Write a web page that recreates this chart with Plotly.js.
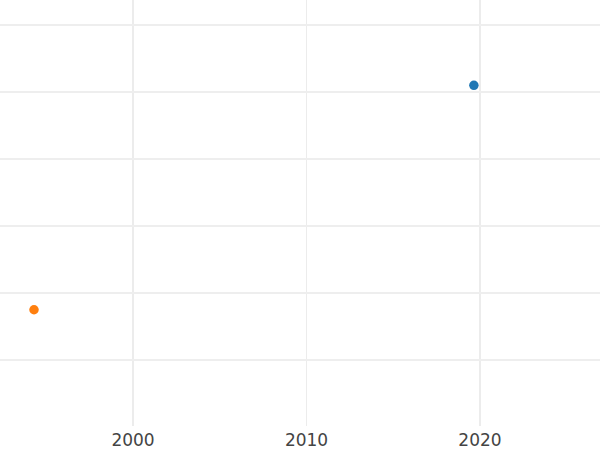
<!DOCTYPE html>
<html>
<head>
<meta charset="utf-8">
<script src="https://cdn.plot.ly/plotly-3.0.1.min.js"></script>
<style>html,body{margin:0;padding:0;background:#fff;}#chart{width:600px;height:450px;}</style>
</head>
<body>
<div id="chart"></div>
<script>
const seriesNames = ["A", "B"];
const seriesX = [[2019.65], [1994.29]];
const seriesY = [[5.10], [1.75]];
const seriesColors = ["#1f77b4", "#ff7f0e"];
const xTickVals = [2000, 2010, 2020];
const xTickText = ["2000", "2010", "2020"];

const traces = seriesNames.map((n, i) => ({
  type: "scatter",
  mode: "markers",
  name: n,
  x: seriesX[i],
  y: seriesY[i],
  marker: {color: seriesColors[i], size: 9.5}
}));

const layout = {
  width: 600, height: 450,
  margin: {l: 0, r: 0, t: 0, b: 24, pad: 0},
  paper_bgcolor: "#fff",
  plot_bgcolor: "#fff",
  showlegend: false,
  font: {family: "DejaVu Sans", size: 17, color: "#444"},
  xaxis: {
    range: [1992.33, 2026.92],
    tickvals: xTickVals, ticktext: xTickText,
    showgrid: true, gridcolor: "#ececec", gridwidth: 1.5,
    zeroline: false, showline: false, ticks: "",
    ticklabelstandoff: 2,
    automargin: false
  },
  yaxis: {
    range: [0.015, 6.373],
    dtick: 1, tick0: 0,
    showticklabels: false,
    showgrid: true, gridcolor: "#eeeeee", gridwidth: 1.2,
    zeroline: false, showline: false, ticks: "",
    automargin: false
  }
};
Plotly.newPlot("chart", traces, layout, {displayModeBar: false, staticPlot: true});
</script>
</body>
</html>
